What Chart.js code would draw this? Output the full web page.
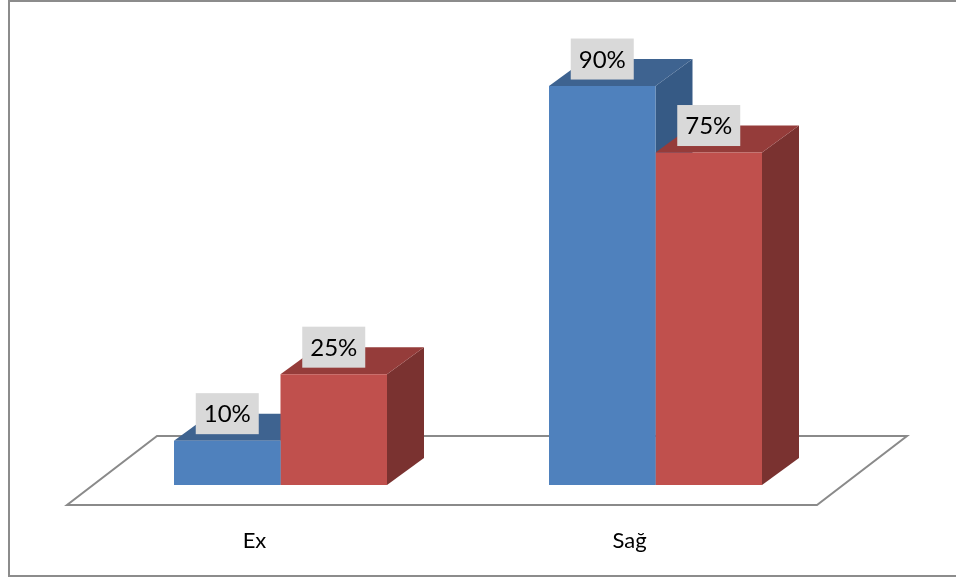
<!DOCTYPE html>
<html>
<head>
<meta charset="utf-8">
<script src="https://cdn.jsdelivr.net/npm/chart.js@4/dist/chart.umd.min.js"></script>
<style>
  html, body { margin: 0; padding: 0; background: #fff; overflow: hidden; }
  #wrap { position: relative; width: 956px; height: 577px; }
  #frame {
    position: absolute; left: 8px; top: 0; width: 1000px; height: 577px;
    box-sizing: border-box; border: 2px solid #8c8c8c; pointer-events: none;
  }
  canvas { position: absolute; left: 0; top: 0; }
</style>
</head>
<body>
<div id="wrap">
  <canvas id="grafik" width="956" height="577"></canvas>
  <div id="frame"></div>
</div>
<script>
// Kategoriler ve seri değerleri (%)
const kategoriler = ['Ex', 'Sağ'];
const seriMavi = [10, 90];
const seriKirmizi = [25, 75];

// Sütunların 3B derinliği (piksel)
const DERINLIK_X = 37;
const DERINLIK_Y = 27;

const renkler = {
  mavi: { on: '#4F81BD', ust: '#3E6390', yan: '#365A85' },
  kirmizi: { on: '#C0504D', ust: '#953C3A', yan: '#7A3230' }
};

// Zemin paralelkenarı ve kategori etiketleri
const zeminPlugin = {
  id: 'zemin',
  beforeDatasetsDraw(chart) {
    const { ctx, chartArea } = chart;
    const b = chartArea.bottom;
    ctx.save();
    ctx.beginPath();
    ctx.moveTo(chartArea.left - 26, b + 20);
    ctx.lineTo(chartArea.right - 26, b + 20);
    ctx.lineTo(chartArea.right + 64, b - 49);
    ctx.lineTo(chartArea.left + 64, b - 49);
    ctx.closePath();
    ctx.fillStyle = '#ffffff';
    ctx.fill();
    ctx.lineWidth = 2;
    ctx.strokeStyle = '#8a8a8a';
    ctx.stroke();
    ctx.restore();

    const x = chart.scales.x;
    ctx.save();
    ctx.font = '22px Lato, "Open Sans", sans-serif';
    ctx.fillStyle = '#000';
    ctx.textAlign = 'center';
    ctx.textBaseline = 'middle';
    kategoriler.forEach((k, i) => {
      ctx.fillText(k, x.getPixelForTick(i) - 26, b + 56);
    });
    ctx.restore();
  }
};

// Üst ve yan yüzeyler: tüm seriler sırayla, ön yüzeylerden önce
const kutuPlugin = {
  id: 'kutu3b',
  beforeDatasetsDraw(chart) {
    const { ctx } = chart;
    ctx.save();
    chart.data.datasets.forEach((ds, di) => {
      chart.getDatasetMeta(di).data.forEach(el => {
        const sol = el.x - el.width / 2;
        const sag = el.x + el.width / 2;
        const ust = el.y;
        const alt = el.base;
        // yan yüz
        ctx.beginPath();
        ctx.moveTo(sag, ust);
        ctx.lineTo(sag + DERINLIK_X, ust - DERINLIK_Y);
        ctx.lineTo(sag + DERINLIK_X, alt - DERINLIK_Y);
        ctx.lineTo(sag, alt);
        ctx.closePath();
        ctx.fillStyle = ds.yanRenk;
        ctx.fill();
        // üst yüz
        ctx.beginPath();
        ctx.moveTo(sol, ust);
        ctx.lineTo(sol + DERINLIK_X, ust - DERINLIK_Y);
        ctx.lineTo(sag + DERINLIK_X, ust - DERINLIK_Y);
        ctx.lineTo(sag, ust);
        ctx.closePath();
        ctx.fillStyle = ds.ustRenk;
        ctx.fill();
      });
    });
    ctx.restore();
  }
};

// Değer etiketleri: gri kutu içinde yüzde
const etiketPlugin = {
  id: 'etiketler',
  afterDatasetsDraw(chart) {
    const { ctx } = chart;
    ctx.save();
    ctx.font = '24px Lato, "Open Sans", sans-serif';
    ctx.textAlign = 'center';
    ctx.textBaseline = 'middle';
    chart.data.datasets.forEach((ds, di) => {
      chart.getDatasetMeta(di).data.forEach((el, i) => {
        const cx = el.x;
        const cy = el.y - DERINLIK_Y;
        ctx.fillStyle = '#D9D9D9';
        ctx.fillRect(cx - 31.5, cy - 20.5, 63, 41);
        ctx.fillStyle = '#000';
        ctx.fillText(ds.data[i] + '%', cx, cy + 1);
      });
    });
    ctx.restore();
  }
};

new Chart(document.getElementById('grafik'), {
  type: 'bar',
  data: {
    labels: kategoriler,
    datasets: [
      {
        label: 'Seri 1',
        data: seriMavi,
        backgroundColor: renkler.mavi.on,
        ustRenk: renkler.mavi.ust,
        yanRenk: renkler.mavi.yan,
        borderWidth: 0
      },
      {
        label: 'Seri 2',
        data: seriKirmizi,
        backgroundColor: renkler.kirmizi.on,
        ustRenk: renkler.kirmizi.ust,
        yanRenk: renkler.kirmizi.yan,
        borderWidth: 0
      }
    ]
  },
  options: {
    responsive: false,
    animation: false,
    layout: { padding: { left: 93, right: 113, top: 41.7, bottom: 92 } },
    datasets: { bar: { categoryPercentage: 0.568, barPercentage: 1 } },
    plugins: {
      legend: { display: false },
      tooltip: { enabled: false }
    },
    scales: {
      x: { display: false },
      y: { display: false, min: 0, max: 100 }
    }
  },
  plugins: [zeminPlugin, kutuPlugin, etiketPlugin]
});
</script>
</body>
</html>
